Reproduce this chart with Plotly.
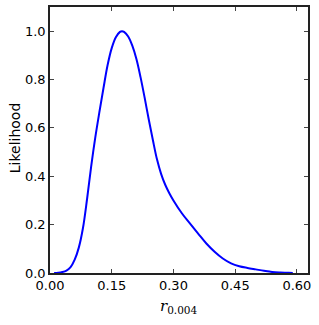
import plotly.graph_objects as go

r_values = [0.01, 0.02, 0.03, 0.04, 0.05, 0.06, 0.07, 0.08, 0.09, 0.10, 0.11, 0.12, 0.13, 0.14,
            0.15, 0.16, 0.17, 0.175, 0.18, 0.19, 0.20, 0.21, 0.22, 0.23, 0.24, 0.25, 0.26, 0.27,
            0.28, 0.29, 0.30, 0.32, 0.34, 0.36, 0.38, 0.40, 0.42, 0.44, 0.46, 0.48, 0.50, 0.52,
            0.54, 0.56, 0.58, 0.59]
likelihood = [0.0, 0.001, 0.004, 0.010, 0.024, 0.055, 0.105, 0.185, 0.305, 0.44, 0.56, 0.665, 0.765, 0.86,
              0.93, 0.975, 0.997, 1.0, 0.997, 0.978, 0.94, 0.885, 0.81, 0.725, 0.635, 0.55, 0.47, 0.41,
              0.365, 0.33, 0.30, 0.248, 0.205, 0.163, 0.122, 0.088, 0.060, 0.040, 0.028, 0.021, 0.015, 0.009,
              0.004, 0.002, 0.001, 0.0]
x_ticks = [0.0, 0.15, 0.30, 0.45, 0.60]
y_ticks = [0.0, 0.2, 0.4, 0.6, 0.8, 1.0]

fig = go.Figure()
fig.add_trace(go.Scatter(x=r_values, y=likelihood, mode="lines",
                         line=dict(color="#0000ff", width=2, shape="spline", smoothing=1.0),
                         showlegend=False, hoverinfo="skip"))

axis_common = dict(showgrid=False, zeroline=False, showline=True, linecolor="#222222", linewidth=1.5,
                   mirror="allticks", ticks="inside", ticklen=4, tickwidth=1, tickcolor="#444444",
                   automargin=False,
                   tickfont=dict(family="DejaVu Sans", size=13, color="black"))

fig.update_xaxes(range=[0, 0.627], tickvals=x_ticks, tickformat=".2f", **axis_common)
fig.update_yaxes(range=[0, 1.1], tickvals=y_ticks, tickformat=".1f", **axis_common)

fig.add_annotation(text="<i>r</i><sub>0.004</sub>", xref="paper", yref="paper", x=0.5, y=-0.083,
                   xanchor="center", yanchor="top", showarrow=False,
                   font=dict(family="DejaVu Serif", size=15, color="black"))
fig.add_annotation(text="Likelihood", xref="paper", yref="paper", x=-0.138, y=0.508, textangle=-90,
                   xanchor="center", yanchor="middle", showarrow=False,
                   font=dict(family="DejaVu Sans", size=14, color="black"))

fig.update_layout(template="none", width=319, height=325, margin=dict(l=50, r=11, t=7, b=52, autoexpand=False),
                  plot_bgcolor="white", paper_bgcolor="white")
fig.write_html("out.html", config={"displayModeBar": False},
               post_script="document.body.style.margin='0';document.body.style.overflow='hidden';")
